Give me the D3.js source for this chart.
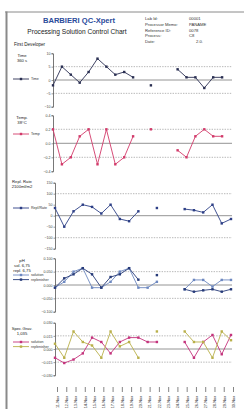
<!DOCTYPE html>
<html>
<head>
<meta charset="utf-8">
<script src="https://cdn.jsdelivr.net/npm/d3@7/dist/d3.min.js"></script>
<style>
  body { margin: 0; background: #fff; }
  text { font-family: "Liberation Sans", Arial, sans-serif; }
</style>
</head>
<body>
<script>
var dates = ["11-Nov", "12-Nov", "13-Nov", "14-Nov", "15-Nov", "16-Nov", "17-Nov", "18-Nov", "19-Nov", "20-Nov",
             "21-Nov", "22-Nov", "23-Nov", "24-Nov", "25-Nov", "26-Nov", "27-Nov", "28-Nov", "29-Nov", "30-Nov"];

var timeDev = [-2, 5, 2, -1, 3, 8, 5, 2, 3, 1, null, -2, null, null, 4, 1, 1, -3, 1, 1];
var tempDev = [0.2, -0.3, -0.2, 0.1, 0.2, -0.3, 0.2, -0.3, -0.2, 0.1, null, 0.2, null, null, -0.1, -0.2, 0.1, 0.2, 0.1, 0.1];
var replDev = [35, -50, 20, 50, 40, 10, 50, -15, -25, 20, null, 35, null, null, 30, 25, 15, 50, -35, -15];
var phSol   = [-0.01, 0.012, 0.05, 0.063, -0.01, -0.01, 0.012, 0.05, 0.063, -0.01, -0.01, 0.012, null, null, -0.016, 0.019, 0.019, -0.006, 0.019, 0.019];
var phRepl  = [-0.01, 0.025, 0.04, 0.063, 0.04, -0.01, 0.03, 0.04, 0.063, 0.02, null, 0.037, null, null, -0.016, -0.025, -0.02, -0.016, -0.025, -0.016];
var sgSol   = [-0.01, -0.016, -0.012, -0.005, 0.013, 0.008, -0.005, 0.008, 0.013, 0.013, 0.008, 0.008, null, null, 0.008, -0.01, 0.008, 0.016, -0.006, 0.016];
var sgRepl  = [0.006, -0.01, 0.02, 0.008, 0.004, -0.01, 0.02, 0.003, 0.008, -0.01, null, 0.02, null, null, 0.02, 0.008, 0.008, -0.01, 0.02, 0.01];

var timeTicks = [10, 5, 0, -5, -10];
var tempTicks = [0.4, 0.2, 0, -0.2, -0.4];
var replTicks = [150, 100, 50, 0, -50, -100, -150];
var phTicks   = [0.1, 0.05, 0, -0.05, -0.1];
var sgTicks   = [0.03, 0.015, 0, -0.015, -0.03];

function init() {
  var W = 247, H = 416;
  var svg = d3.select("body").append("svg")
    .attr("width", W)
    .attr("height", H);

  // page frame
  svg.append("line").attr("x1", 5).attr("x2", 244).attr("y1", 12).attr("y2", 12)
    .attr("stroke", "#8a8a8a").attr("stroke-width", 1);
  svg.append("line").attr("x1", 6.5).attr("x2", 6.5).attr("y1", 11.5).attr("y2", 409)
    .attr("stroke", "#8a8a8a").attr("stroke-width", 2);

  // header
  svg.append("text").attr("x", 79).attr("y", 23).attr("text-anchor", "middle")
    .attr("font-size", 7.6).attr("font-weight", "bold").attr("fill", "#2b4c9b")
    .text("BARBIERI  QC-Xpert");
  svg.append("text").attr("x", 77).attr("y", 34).attr("text-anchor", "middle")
    .attr("font-size", 6.6).attr("fill", "#222")
    .text("Processing Solution  Control Chart");

  var infoKeys = ["Lab Id:", "Processor Memo:", "Reference ID:", "Process:", "Date:"],
      infoVals = ["00001", "PANAME", "0078", "C8", "2.0."];
  svg.selectAll(".ik").data(infoKeys).enter().append("text")
    .attr("x", 145).attr("y", function (d, i) { return 20 + i * 5.8; })
    .attr("font-size", 4.2).attr("fill", "#333").text(function (d) { return d; });
  svg.selectAll(".iv").data(infoVals).enter().append("text")
    .attr("x", function (d, i) { return i == 4 ? 196 : 189; })
    .attr("y", function (d, i) { return 20 + i * 5.8; })
    .attr("font-size", 4.2).attr("fill", "#333").text(function (d) { return d; });

  svg.append("text").attr("x", 14).attr("y", 46).attr("font-size", 4.6).attr("fill", "#222")
    .text("First Developer");

  var idx = d3.range(dates.length);
  var xA = d3.scalePoint().domain(d3.range(21)).range([53, 231]);
  var xB = d3.scalePoint().domain(idx).range([55, 231]);

  function panel(p) {
    var y = d3.scaleLinear().domain([p.ticks[p.ticks.length - 1], p.ticks[0]]).range([p.bottom, p.top]);
    var g = svg.append("g");
    var x0 = p.x.range()[0], x1 = 232;

    g.selectAll(".lim").data(p.limits).enter().append("line")
      .attr("x1", x0).attr("x2", x1)
      .attr("y1", function (d) { return y(d); }).attr("y2", function (d) { return y(d); })
      .attr("stroke", "#9a9a9a").attr("stroke-width", 0.7).attr("stroke-dasharray", "1.4,1.2");
    g.append("line").attr("x1", x0).attr("x2", x1).attr("y1", y(0)).attr("y2", y(0))
      .attr("stroke", "#888").attr("stroke-width", 0.9);

    var axis = d3.axisLeft(y).tickValues(p.ticks).tickSize(1.5).tickFormat(p.fmt);
    var ag = g.append("g").attr("transform", "translate(" + x0 + ",0)").call(axis);
    ag.select(".domain").attr("stroke", "#555").attr("stroke-width", 0.8);
    ag.selectAll(".tick line").attr("stroke", "#555").attr("stroke-width", 0.6);
    ag.selectAll(".tick text").attr("font-size", 3.6).attr("fill", "#444")
      .attr("font-family", "Liberation Sans, Arial, sans-serif").attr("x", -2.5);

    p.series.forEach(function (s) {
      var pts = s.values.map(function (v, i) { return {i: i, v: v}; });
      var line = d3.line().defined(function (d) { return d.v !== null; })
        .x(function (d) { return p.x(d.i); }).y(function (d) { return y(d.v); });
      g.append("path").datum(pts).attr("d", line)
        .attr("fill", "none").attr("stroke", s.color).attr("stroke-width", 0.9);
      g.selectAll(null).data(pts.filter(function (d) { return d.v !== null; })).enter()
        .append("rect")
        .attr("x", function (d) { return p.x(d.i) - 1.2; })
        .attr("y", function (d) { return y(d.v) - 1.2; })
        .attr("width", 2.4).attr("height", 2.4)
        .attr("fill", s.color);
    });

    p.labels.forEach(function (t, i) {
      svg.append("text").attr("x", 22).attr("y", p.labelY + i * 5.2)
        .attr("font-size", 4.2)
        .attr("fill", "#222").attr("text-anchor", "middle").text(t);
    });
    p.series.forEach(function (s, i) {
      var ly = p.legendY + i * 4.6;
      svg.append("line").attr("x1", 13).attr("x2", 29).attr("y1", ly).attr("y2", ly)
        .attr("stroke", s.color).attr("stroke-width", 0.9);
      svg.append("rect").attr("x", 19.8).attr("y", ly - 1.2).attr("width", 2.4).attr("height", 2.4)
        .attr("fill", s.color);
      svg.append("text").attr("x", 31).attr("y", ly + 1.3).attr("font-size", 3.6)
        .attr("fill", "#333").text(s.name);
    });
  }

  var f0 = d3.format("d"), f1 = d3.format(".1f"), f3 = d3.format(".3f");

  panel({x: xA, top: 53.3, bottom: 106.7, ticks: timeTicks, limits: [5, -5], fmt: f0,
         labels: ["Time", "360 s"], labelY: 57, legendY: 79,
         series: [{name: "Time", values: timeDev, color: "#2a2f52"}]});
  panel({x: xA, top: 115.3, bottom: 171.3, ticks: tempTicks, limits: [0.2, -0.2], fmt: f1,
         labels: ["Temp.", "38°C"], labelY: 119, legendY: 134,
         series: [{name: "Temp", values: tempDev, color: "#d23a6a"}]});
  panel({x: xB, top: 182.7, bottom: 248.7, ticks: replTicks, limits: [100, -100], fmt: f0,
         labels: ["Repl. Rate", "2100ml/m2"], labelY: 183, legendY: 208,
         series: [{name: "Repl/Rate", values: replDev, color: "#2d3f86"}]});
  panel({x: xB, top: 258.3, bottom: 311.7, ticks: phTicks, limits: [0.05, -0.05], fmt: f3,
         labels: ["pH", "sol. 6,75", "repl. 6,75"], labelY: 262, legendY: 275,
         series: [{name: "solution", values: phSol, color: "#6d88c0"},
                  {name: "replenisher", values: phRepl, color: "#263a78"}]});
  panel({x: xB, top: 322.7, bottom: 375.3, ticks: sgTicks, limits: [0.015, -0.015], fmt: f3,
         labels: ["Spec.Grav.", "1,035"], labelY: 330, legendY: 342,
         series: [{name: "solution", values: sgSol, color: "#c4337c"},
                  {name: "replenisher", values: sgRepl, color: "#b9b04a"}]});

  // date axis
  var xd = d3.axisBottom(xB).tickSize(5).tickFormat(function (i) { return dates[i]; });
  var dg = svg.append("g").attr("transform", "translate(2,387)").call(xd);
  dg.select(".domain").remove();
  dg.selectAll(".tick line").attr("stroke", "#333").attr("stroke-width", 0.6);
  dg.selectAll(".tick text").attr("font-size", 3.8).attr("fill", "#333")
    .attr("transform", "rotate(-90)").attr("text-anchor", "end")
    .attr("x", -9).attr("y", 0).attr("dy", "0.35em");
}

init();
</script>
</body>
</html>
